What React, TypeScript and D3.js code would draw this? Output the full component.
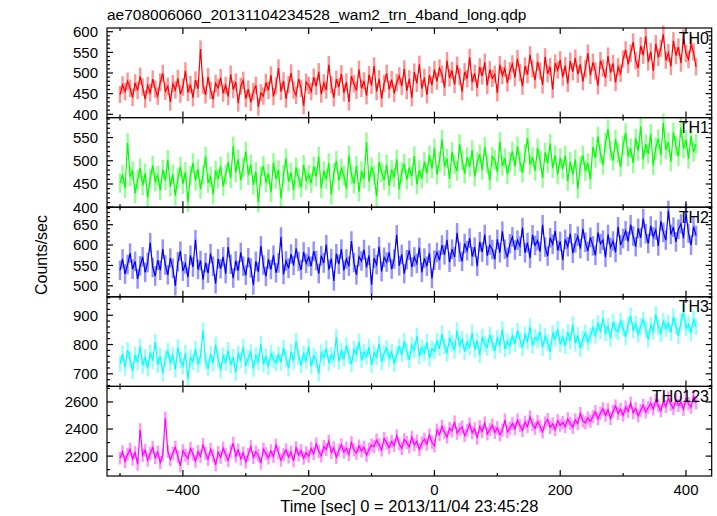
import React from 'react';
import * as d3 from 'd3';

const TITLE = 'ae708006060_20131104234528_wam2_trn_4band_long.qdp';
const X_LABEL = 'Time [sec] 0 = 2013/11/04 23:45:28';
const Y_LABEL = 'Counts/sec';
const T_START = -500;
const T_STEP = 4;
const X_DOMAIN = [-520.7, 440.9];
const X_LABEL_TICKS = [-400, -200, 0, 200, 400];

const TH0 = [
  448, 471, 455, 480, 463, 441, 476, 458, 492, 466,
  437, 470, 452, 485, 461, 444, 478, 499, 456, 468,
  430, 474, 459, 487, 449, 466, 505, 453, 472, 440,
  483, 462, 558, 470, 447, 491, 458, 436, 475, 464,
  489, 451, 470, 443, 497, 460, 478, 427, 468, 482,
  438, 461, 429, 455, 470, 418, 452, 444,
  477, 458, 495, 443, 469, 512, 455, 481, 437, 472, 500, 459, 446, 486, 463, 421, 478, 470,
  455, 490, 468, 503, 449, 476, 459, 520, 471, 440,
  485, 466, 498, 452, 478, 430, 492, 474, 458, 509,
  463, 481, 445, 496, 470, 517, 455, 486, 438, 475,
  499, 460, 484, 451, 477,
  493, 468, 510, 457, 486, 440, 502, 475, 521, 462, 489, 447, 495, 471, 508,
  480, 512, 497, 465, 530, 488, 506, 472, 519, 491,
  455, 503, 486, 538, 478, 499, 464, 515, 493, 526,
  470, 508, 487, 497, 452, 520, 494, 511, 476, 505,
  522, 489, 535, 501, 468, 517, 496, 544, 510, 483,
  527, 505, 471, 539, 498, 515, 460, 524, 507, 532,
  490, 518, 475, 529, 503,
  536, 497, 521, 479, 510, 548, 494, 526, 505, 469,
  530, 512, 488, 541, 501, 523, 477, 515, 499, 534,
  556, 521, 548, 575, 530, 512, 566, 543, 589, 527,
  552, 505, 571, 538, 560, 594, 531, 549, 516, 578,
  542, 563, 524, 585, 547, 533, 570, 551, 515,
];

const TH1 = [
  452, 470, 441, 538, 466, 478, 430, 459, 484, 447,
  473, 421, 462, 490, 455, 468, 436, 481, 458, 502,
  444, 471, 425, 463, 487, 450, 476, 411, 468, 495,
  457, 482, 439, 470, 509, 452, 466, 428, 479, 461,
  488, 445, 470,
  497, 462, 531, 475, 503, 458, 486, 520, 469, 492,
  448, 476, 410, 467, 489, 453, 472, 432, 496, 461,
  480, 419, 470, 505, 455, 474, 437, 486, 462, 443,
  491, 458, 470,
  452, 488, 466, 509, 441, 478, 460, 495, 427, 474,
  500, 457, 483, 468, 440, 512, 470, 451, 489, 433,
  478, 461, 540, 455, 486, 469, 423, 497, 475, 458,
  492, 446, 481, 464, 503, 438, 476, 494, 459, 485,
  467, 510, 449, 480, 462, 498, 473,
  512, 483, 527, 470, 499, 546, 488, 505, 461, 519,
  492, 478, 536, 501, 472, 508, 487, 523, 466, 497,
  514, 480, 530, 493, 458, 509, 502, 476, 541, 489,
  506, 471, 498,
  520, 488, 531, 497, 474, 515, 549, 492, 508, 478,
  527, 501, 463, 518, 495, 537, 484, 512, 470, 506,
  482, 511, 456, 498, 470, 503, 440, 489, 512, 478, 495, 460,
  530, 506, 552, 515, 491, 539, 568, 522, 500, 546,
  517, 487, 533, 560, 509, 527, 495, 548, 521, 574,
  503, 536, 515, 558, 490, 529, 547, 512, 581, 524,
  540, 498, 561, 531, 510, 572, 526, 545, 504, 553,
  519, 536,
];

const TH2 = [
  538, 566, 529, 552, 580, 541, 560, 517, 549, 571,
  533, 557, 606, 545, 524, 563, 538, 590, 551, 527,
  568, 543, 500, 559, 585, 536, 554, 521, 575, 546,
  613, 540, 562, 515, 557, 531, 579, 548, 505, 566,
  542, 571, 530, 595, 553, 519, 561, 537, 582, 548,
  526, 569, 544, 502, 560, 534, 598, 551, 523, 565,
  540, 575, 532, 556, 620, 528, 561, 543,
  578, 550, 592, 560, 539, 583, 555, 571,
  548, 585, 562, 530, 574, 556, 601, 540, 567, 512,
  579, 553, 590, 538, 566, 548, 610, 557, 527, 572,
  561, 589, 545, 575, 503, 568, 552, 596, 535, 570,
  558, 582, 541, 566, 625, 549, 577, 530, 564, 587,
  546, 571, 555, 594, 533, 568, 548, 580, 518, 563,
  582, 563, 600, 576, 613, 558, 590, 571, 630, 583,
  560, 604, 586, 617, 572, 595, 548, 608, 583, 626,
  574, 600, 589, 565, 614, 581, 634, 590, 570, 603,
  620, 588, 612, 597, 643, 581, 606, 568, 625, 599,
  611, 584, 650, 595, 573, 618, 602, 635, 587, 609,
  563, 614, 596, 628, 580, 605, 622, 591, 640, 607,
  585, 619, 598, 575, 631, 603, 612, 570, 626, 594,
  610, 582, 645, 600, 616,
  635, 609, 650, 622, 596, 641, 618, 665, 628, 604,
  647, 620, 637, 598, 659, 631, 612, 685, 626, 644,
  608, 639, 652, 617, 678, 629, 600, 645, 624,
];

const TH3 = [
  735, 768, 722, 781, 749, 710, 764, 740, 793, 728,
  756, 719, 772, 745, 808, 731, 760, 702, 752, 777,
  738, 763, 715, 790, 747, 726, 771, 683, 755, 741,
  785, 732, 759, 848, 744, 720, 767, 736, 799, 751,
  712, 762, 739, 780, 730, 757, 705, 768, 746, 791,
  727, 754, 774, 718, 763, 741, 802, 733, 759, 724,
  770, 748, 737,
  766, 739, 789, 752, 720, 775, 743, 812, 757, 731,
  768, 745, 793, 726, 761, 749, 701, 772, 755, 786,
  737, 764, 750, 825, 742,
  778, 752, 796, 761, 733, 784, 768, 810, 747, 775,
  759, 791, 730, 772, 756, 803, 741, 770, 787, 752,
  774, 735, 766,
  792, 768, 811, 775, 748, 798, 781, 830, 760, 789, 771, 808, 754, 786, 777,
  812, 788, 836, 795, 770, 821, 804, 780, 848, 797,
  818, 775, 809, 792, 840, 783, 813, 764, 826, 801,
  790, 833, 806, 778, 822, 799, 852, 785, 811, 795,
  830, 802, 847, 816, 789, 834, 810, 861, 797, 825,
  814, 843, 790, 828, 806, 775, 838, 819, 852, 801,
  826, 795, 842, 812, 868, 804, 831, 786, 820, 839,
  808, 829,
  858, 831, 872, 846, 890, 839, 862, 820, 877, 851,
  843, 880, 857, 826, 868, 899, 849, 871, 835, 862,
  884, 852, 818, 866, 845, 903, 860, 837, 879, 854,
  872, 841, 895, 863, 830, 877, 912, 856, 869, 840,
  888, 861,
];

const TH0123 = [
  2185, 2232, 2160, 2214, 2251, 2178, 2226, 2140, 2395, 2205,
  2243, 2170, 2219, 2262, 2188, 2230, 2152, 2208, 2480, 2236,
  2174, 2221, 2265, 2195, 2128, 2240, 2207, 2183, 2256, 2215,
  2162, 2233, 2198, 2287, 2220, 2176, 2249, 2204, 2135, 2228,
  2191, 2258, 2210, 2168, 2237, 2295, 2200, 2245, 2180, 2222,
  2156, 2213, 2270, 2190, 2231, 2205, 2148, 2252, 2218, 2186,
  2239, 2197, 2281, 2224, 2170, 2211, 2246, 2193, 2230, 2165,
  2262, 2207, 2240, 2184, 2225, 2199,
  2256, 2218, 2290, 2235, 2201, 2271, 2249, 2310, 2226, 2262,
  2190, 2244, 2283, 2230, 2258, 2212, 2300, 2247, 2221, 2275,
  2238, 2266, 2205, 2252, 2281,
  2270, 2318, 2284, 2245, 2331, 2296, 2262, 2309, 2278, 2350,
  2290, 2256, 2322, 2301, 2268, 2340, 2283, 2310, 2249, 2297,
  2325, 2288, 2355, 2302, 2276,
  2392, 2358, 2421, 2377, 2340, 2405, 2386, 2452, 2369, 2398,
  2415, 2351, 2390, 2437, 2372, 2402, 2333, 2419, 2381, 2445,
  2364, 2396, 2428, 2375, 2410, 2357, 2391, 2466, 2380, 2407,
  2440, 2402, 2467, 2425, 2389, 2451, 2418, 2490, 2433, 2405,
  2456, 2421, 2378, 2445, 2470, 2412, 2438, 2395, 2461, 2427,
  2449, 2418, 2475, 2441, 2413, 2468, 2440, 2515, 2460, 2446,
  2482, 2457,
  2492, 2528, 2475, 2517, 2550, 2501, 2543, 2478, 2530, 2571,
  2515, 2546, 2502, 2563, 2530, 2592, 2520, 2551, 2497, 2538,
  2575, 2526, 2559,
  2590, 2548, 2612, 2571, 2535, 2603, 2566, 2630, 2582, 2551,
  2618, 2574, 2599, 2545, 2625, 2587, 2560, 2641, 2593,
];

const SERIES = [TH0, TH1, TH2, TH3, TH0123];
const SERIES_NAMES = ['TH0', 'TH1', 'TH2', 'TH3', 'TH0123'];
const SERIES_ERR = [21, 21, 24, 28, 48];
const Y_DOMAINS = [[392, 609], [400, 593], [473, 693], [657, 963], [2053, 2715]];
const Y_LABEL_TICKS = [
  [400, 450, 500, 550, 600],
  [400, 450, 500, 550],
  [500, 550, 600, 650],
  [700, 800, 900],
  [2200, 2400, 2600],
];
const Y_MINOR_STEP = [10, 10, 10, 20, 100];
const COLORS = ['#ff0000', '#00ff00', '#0000ff', '#00ffff', '#ff00ff'];

const W = 717;
const H = 516;
const LEFT = 107;
const RIGHT = 711.7;
const TOP = 28;
const BOTTOM = 476;
const FONT = "'Liberation Sans', Arial, Helvetica, sans-serif";

export default function App() {
  const nP = SERIES.length;
  const ph = (BOTTOM - TOP) / nP;
  const x = d3.scaleLinear().domain(X_DOMAIN).range([LEFT, RIGHT]);
  const xTicks = d3.range(-500, 441, 100);

  const panels = SERIES.map((vals, p) => {
    const y0 = TOP + p * ph;
    const y = d3.scaleLinear().domain(Y_DOMAINS[p]).range([y0 + ph, y0]);
    const pts = vals.map((v, i) => [T_START + i * T_STEP, v] as [number, number]);
    const line = d3.line<[number, number]>().x((d) => x(d[0])).y((d) => y(d[1]));
    const err = SERIES_ERR[p];
    const [lo, hi] = Y_DOMAINS[p];
    const step = Y_MINOR_STEP[p];
    const minor = d3.range(Math.ceil(lo / step) * step, hi + 0.001, step);
    const majors = Y_LABEL_TICKS[p];
    return { p, y0, y, pts, line, err, minor, majors };
  });

  return (
    <svg width={W} height={H} style={{ position: 'absolute', left: 0, top: 0, background: '#fff' }} fontFamily={FONT}>
      <rect x={0} y={0} width={W} height={H} fill="#fff" />
      {panels.map(({ p, y, pts, err }) => (
        <g key={'e' + p} stroke={COLORS[p]} strokeOpacity={0.42} strokeWidth={2.5}>
          {pts.map((d, i) => (
            <line key={i} x1={x(d[0])} x2={x(d[0])} y1={y(d[1] - err)} y2={y(d[1] + err)} />
          ))}
        </g>
      ))}
      {panels.map(({ p, pts, line }) => (
        <path key={'l' + p} d={line(pts) || ''} fill="none" stroke={COLORS[p]} strokeWidth={1.2} />
      ))}
      {panels.map(({ p, y0, y, minor, majors }) => (
        <g key={'a' + p} stroke="#000" strokeWidth={1.2}>
          <rect x={LEFT} y={y0} width={RIGHT - LEFT} height={ph} fill="none" />
          {minor.map((v) => {
            const isMajor = majors.includes(v);
            const len = isMajor ? 6 : 3;
            return (
              <g key={v}>
                <line x1={LEFT} x2={LEFT + len} y1={y(v)} y2={y(v)} />
                <line x1={RIGHT} x2={RIGHT - len} y1={y(v)} y2={y(v)} />
              </g>
            );
          })}
          {xTicks.map((t) => {
            const len = t % 200 === 0 ? 6 : 3;
            return (
              <g key={t}>
                <line x1={x(t)} x2={x(t)} y1={y0 + ph} y2={y0 + ph - len} />
                <line x1={x(t)} x2={x(t)} y1={y0} y2={y0 + len} />
              </g>
            );
          })}
        </g>
      ))}
      {panels.map(({ p, y, majors }) => (
        <g key={'yl' + p} fontSize={15} textAnchor="end" fill="#000">
          {majors.map((v) => (
            <text key={v} x={98} y={y(v)} dy="0.36em">{v}</text>
          ))}
        </g>
      ))}
      {panels.map(({ p, y0 }) => (
        <text key={'n' + p} x={709} y={y0 + 15.5} fontSize={16} textAnchor="end" fill="#000">
          {SERIES_NAMES[p]}
        </text>
      ))}
      <g fontSize={15} textAnchor="middle" fill="#000">
        {X_LABEL_TICKS.map((t) => (
          <text key={t} x={x(t)} y={495}>{t < 0 ? '\u2212' + Math.abs(t) : t}</text>
        ))}
      </g>
      <text x={(LEFT + RIGHT) / 2} y={512} fontSize={16.5} textAnchor="middle" fill="#000">{X_LABEL}</text>
      <text transform={`translate(47, 255) rotate(-90)`} fontSize={16} textAnchor="middle" fill="#000">{Y_LABEL}</text>
      <text x={107} y={20} fontSize={15.5} fill="#000">{TITLE}</text>
    </svg>
  );
}
